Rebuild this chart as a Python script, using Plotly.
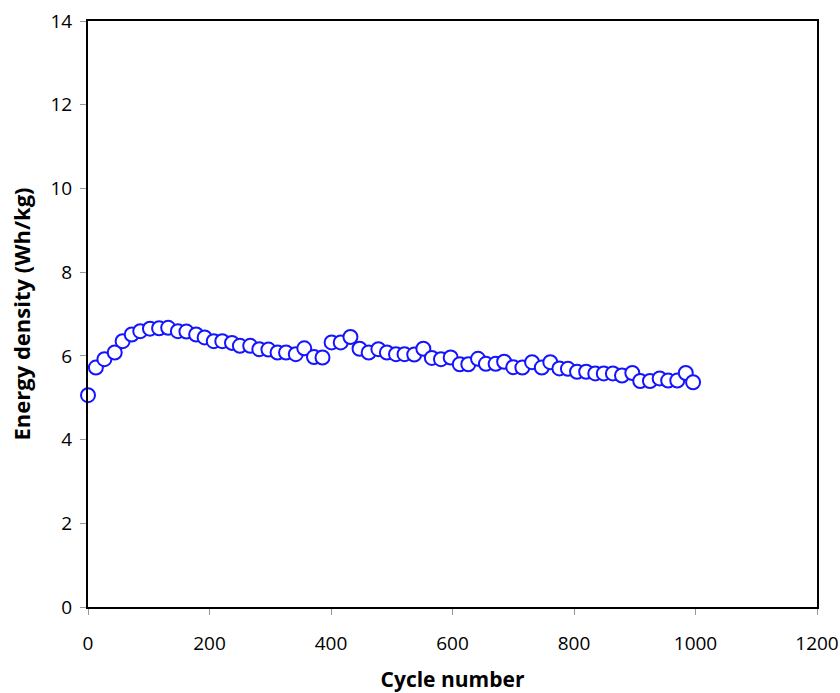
import plotly.graph_objects as go

cycles = [0, 13, 27, 44, 57, 72, 86, 102, 117, 132, 148, 162, 178, 192, 207, 221, 237, 250, 267, 282,
          297, 312, 326, 342, 356, 372, 386, 401, 416, 432, 447, 462, 478, 492, 507, 521, 537, 552, 566, 581,
          597, 612, 626, 642, 655, 671, 685, 700, 715, 731, 747, 761, 776, 790, 805, 820, 835, 849, 864, 879,
          896, 909, 925, 941, 955, 970, 984, 996]
energy = [5.06, 5.72, 5.92, 6.08, 6.35, 6.51, 6.59, 6.65, 6.66, 6.67, 6.59, 6.58, 6.51, 6.44, 6.35, 6.35,
          6.31, 6.24, 6.24, 6.16, 6.15, 6.08, 6.08, 6.04, 6.18, 5.97, 5.96, 6.32, 6.32, 6.45, 6.17, 6.08,
          6.16, 6.08, 6.04, 6.04, 6.03, 6.17, 5.95, 5.92, 5.96, 5.80, 5.80, 5.93, 5.81, 5.81, 5.86, 5.73,
          5.72, 5.85, 5.72, 5.85, 5.70, 5.69, 5.62, 5.62, 5.58, 5.58, 5.58, 5.53, 5.59, 5.40, 5.40, 5.46,
          5.41, 5.41, 5.59, 5.37]

x_ticks = [0, 200, 400, 600, 800, 1000, 1200]
y_ticks = [0, 2, 4, 6, 8, 10, 12, 14]

FONT = "Open Sans"

fig = go.Figure()
fig.add_trace(go.Scatter(
    x=cycles, y=energy, mode="markers",
    marker=dict(symbol="circle", size=14, color="white",
                line=dict(color="#1414FF", width=2)),
    showlegend=False, cliponaxis=False,
))

fig.update_layout(
    width=840, height=693,
    margin=dict(l=88, r=23, t=21, b=86),
    paper_bgcolor="white", plot_bgcolor="white",
    font=dict(family=FONT, size=19, color="black"),
    xaxis=dict(
        range=[0, 1200], tickvals=x_ticks, ticktext=[str(v) for v in x_ticks],
        showgrid=False, zeroline=False, automargin=False, ticklabeloverflow="allow",
        showline=True, linecolor="black", linewidth=2, mirror=True,
        ticks="outside", ticklen=6, tickcolor="#999999", tickwidth=1,
        ticklabelstandoff=12,
        title=dict(text="<b>Cycle number</b>", font=dict(family=FONT, size=21), standoff=30),
    ),
    yaxis=dict(
        range=[0, 14], tickvals=y_ticks, ticktext=[str(v) for v in y_ticks],
        showgrid=False, zeroline=False, automargin=False, ticklabeloverflow="allow",
        showline=True, linecolor="black", linewidth=2, mirror=True,
        ticks="outside", ticklen=6, tickcolor="#999999", tickwidth=1,
        ticklabelstandoff=4,
        title=dict(text="<b>Energy density (Wh/kg)</b>", font=dict(family=FONT, size=22), standoff=14),
    ),
)

fig.write_html(
    "out.html",
    config={"displayModeBar": False},
    post_script="document.body.style.margin='0';document.body.style.overflow='hidden';",
)
